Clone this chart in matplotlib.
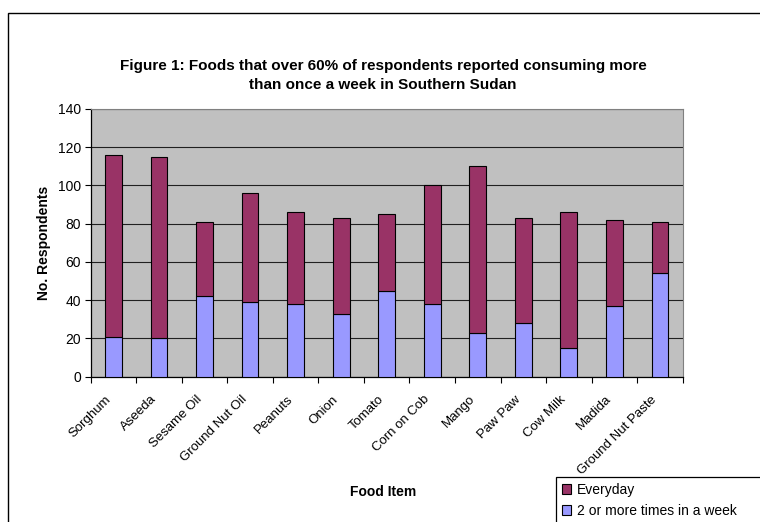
import numpy as np
import matplotlib.pyplot as plt
from matplotlib.patches import Rectangle, Patch

plt.rcParams['font.family'] = ['Liberation Sans', 'DejaVu Sans']

foods = ['Sorghum', 'Aseeda', 'Sesame Oil', 'Ground Nut Oil', 'Peanuts',
         'Onion', 'Tomato', 'Corn on Cob', 'Mango', 'Paw Paw', 'Cow Milk',
         'Madida', 'Ground Nut Paste']
weekly = [21, 20, 42, 39, 38, 33, 45, 38, 23, 28, 15, 37, 54]
everyday = [95, 95, 39, 57, 48, 50, 40, 62, 87, 55, 71, 45, 27]

col_everyday = '#993366'
col_weekly = '#9999FF'

fig = plt.figure(figsize=(7.6, 5.22), dpi=100)
ax = fig.add_axes([0.1193, 0.2784, 0.7790, 0.5128])
ax.set_facecolor('#C0C0C0')

x = np.arange(len(foods))
w = 0.37
ax.bar(x, weekly, w, color=col_weekly, edgecolor='black', linewidth=0.8,
       zorder=3)
ax.bar(x, everyday, w, bottom=weekly, color=col_everyday, edgecolor='black',
       linewidth=0.8, zorder=3)

ax.set_xlim(-0.5, len(foods) - 0.5)
ax.set_ylim(0, 140)
ax.set_yticks(np.arange(0, 141, 20))
ax.yaxis.grid(True, color='#202020', linewidth=0.8, zorder=1)
ax.set_axisbelow(True)

# category boundaries carry the tick marks, labels sit at the centres
ax.set_xticks(np.arange(-0.5, len(foods), 1.0))
ax.set_xticklabels([])
ax.tick_params(axis='x', length=4, width=0.8, direction='out')
ax.tick_params(axis='y', length=4, width=0.8, direction='out', labelsize=10,
               pad=3)
for i, name in enumerate(foods):
    ax.annotate(name, xy=(i, 0), xycoords=('data', 'axes fraction'),
                xytext=(-6.5, -12), textcoords='offset points',
                rotation=45, rotation_mode='anchor', ha='right', va='top',
                fontsize=9.5)

for side in ['top', 'right']:
    ax.spines[side].set_color('#808080')
for side in ['left', 'bottom']:
    ax.spines[side].set_color('black')
    ax.spines[side].set_linewidth(0.9)

ax.set_ylabel('No. Respondents', fontsize=10, fontweight='bold', labelpad=5)
fig.text(0.504, 0.057, 'Food Item', ha='center', va='center', fontsize=10,
         fontweight='bold')
fig.text(0.504, 0.856,
         'Figure 1: Foods that over 60% of respondents reported consuming more\n'
         'than once a week in Southern Sudan',
         ha='center', va='center', fontsize=11, fontweight='bold',
         linespacing=1.45)

# chart frame
fig.add_artist(Rectangle((8 / 760, -0.1), 1.2, 1.076, transform=fig.transFigure,
                         fill=False, edgecolor='black', linewidth=1.0))

# legend box runs off the right and bottom edges
fig.add_artist(Rectangle((556 / 760, -0.1), 0.5, 45 / 522 + 0.1,
                         transform=fig.transFigure, facecolor='white',
                         edgecolor='black', linewidth=0.9, zorder=4))
handles = [Patch(facecolor=col_everyday, edgecolor='black', linewidth=0.8),
           Patch(facecolor=col_weekly, edgecolor='black', linewidth=0.8)]
leg = fig.legend(handles, ['Everyday', '2 or more times in a week'],
                 loc='upper left', bbox_to_anchor=(556 / 760, 45 / 522),
                 fontsize=10, frameon=False, handlelength=0.7,
                 handleheight=0.7, handletextpad=0.4, labelspacing=0.55,
                 borderpad=0.4, borderaxespad=0)
leg.set_zorder(5)

fig.savefig('out.png', dpi=100)
